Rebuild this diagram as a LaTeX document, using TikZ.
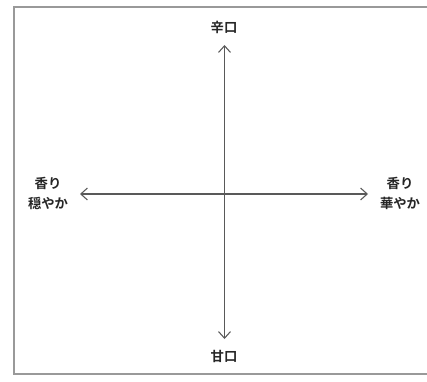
\documentclass[tikz,border=0pt]{standalone}
\usepackage{fontspec}
\newfontfamily\cjk{Noto Sans CJK JP}[BoldFont={Noto Sans CJK JP Bold}]
\usetikzlibrary{arrows.meta}
\begin{document}
\begin{tikzpicture}[x=0.75pt,y=-0.75pt,
  lbl/.style={font=\cjk\bfseries\fontsize{10}{15}\selectfont, text=black!85, align=center, inner sep=0pt},
  axis/.style={draw=black!65, line width=0.8pt, {Straight Barb[length=5pt,width=9pt]}-{Straight Barb[length=5pt,width=9pt]}},
  frame/.style={draw=black!40, line width=1.5pt}]
\useasboundingbox (0,0) rectangle (427,381);
\draw[frame] (427,7) -- (14,7) -- (14,374) -- (427,374);
\node[lbl] (top) at (224,27) {辛口};
\node[lbl] (bot) at (224,356) {甘口};
\node[lbl] (left) at (48,193) {香り\\穏やか};
\node[lbl] (right) at (400,193) {香り\\華やか};
\coordinate (t) at (224.5,45);
\coordinate (b) at (224.5,339);
\coordinate (l) at (80,194);
\coordinate (r) at (368,194);
\draw[axis] (b) -- (t);
\draw[axis] (l) -- (r);
\end{tikzpicture}
\end{document}
